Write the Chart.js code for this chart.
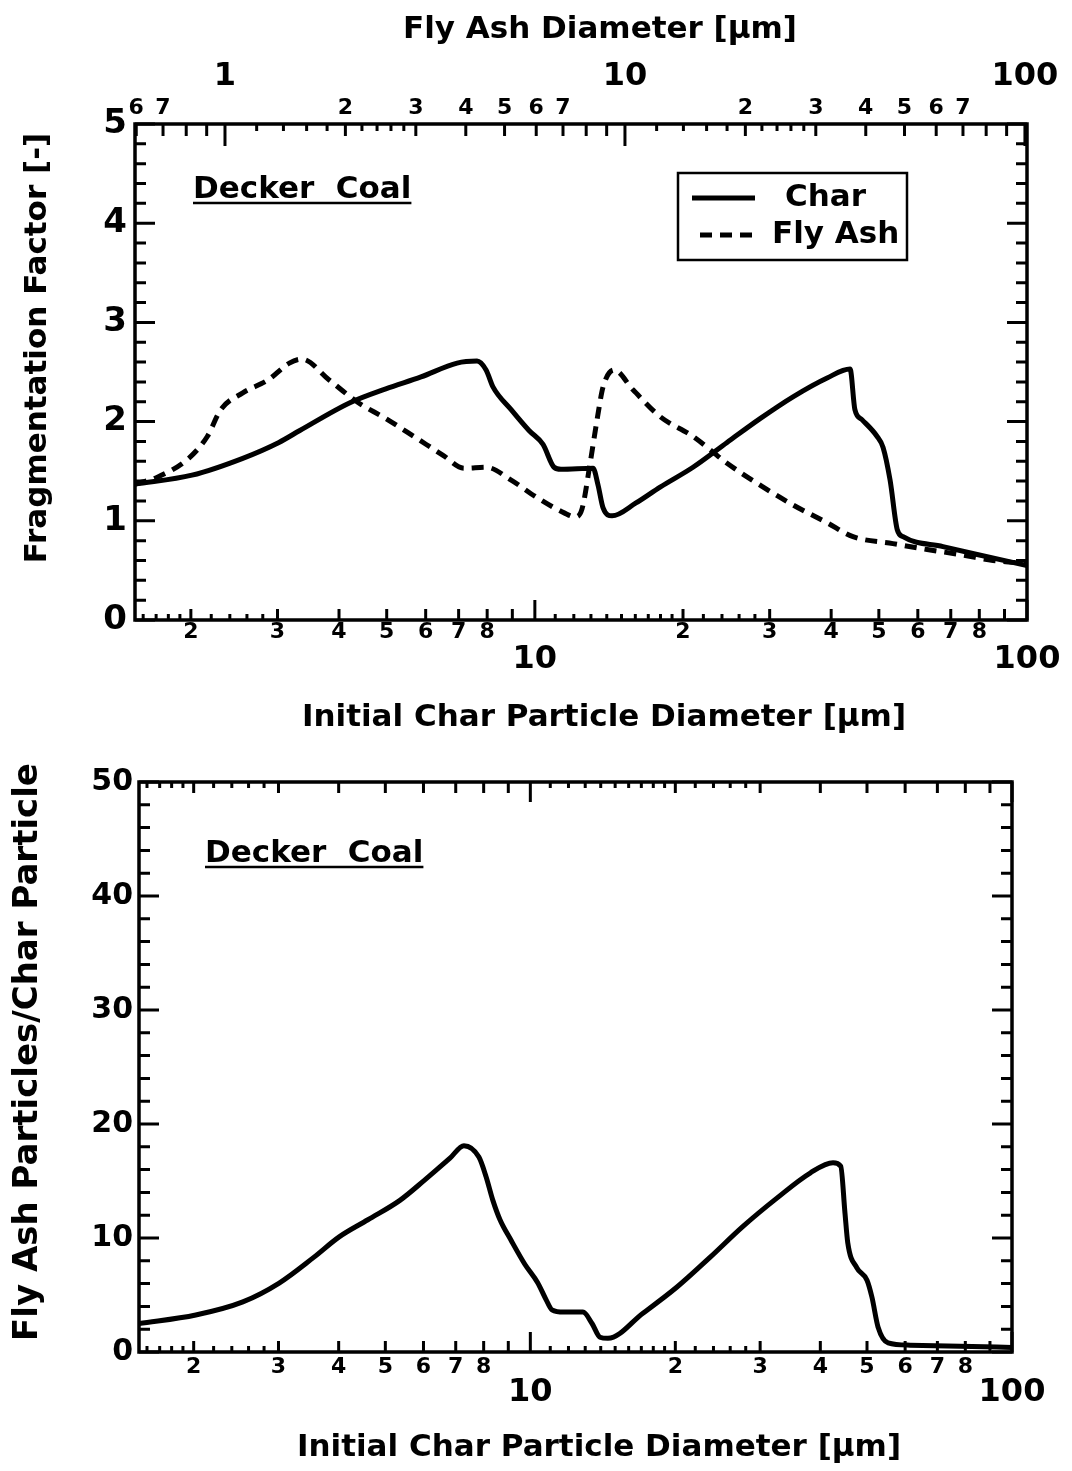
<!DOCTYPE html>
<html>
<head>
<meta charset="utf-8">
<title>Decker Coal fragmentation</title>
<script src="https://cdn.jsdelivr.net/npm/chart.js@4.4.1/dist/chart.umd.min.js"></script>
<style>
  html, body { margin: 0; padding: 0; background: #fff; }
  #wrap { position: relative; width: 1072px; height: 1471px; }
  #chartTop { position: absolute; left: 0; top: 0; }
  #chartBottom { position: absolute; left: 0; top: 745px; }
</style>
</head>
<body>
<div id="wrap">
  <canvas id="chartTop" width="1072" height="745"></canvas>
  <canvas id="chartBottom" width="1072" height="726"></canvas>
</div>
<script>
/* ===== Data ===== */
// top panel: fragmentation factor vs initial char diameter [um]
const charDiam = [1.54, 2.01, 2.55, 3.02, 3.33, 4.21, 4.98, 5.87, 6.95, 7.63, 7.96, 8.22, 8.95, 9.73, 10.39, 10.94, 11.3, 13.13, 13.44, 13.76, 14.35, 16.05, 17.97, 20.96, 24.58, 28.68, 33.46, 39.25, 43.7, 44.7, 46.2, 49.6, 51.0, 52.7, 54.5, 56.0, 67.5, 79.2, 100];
const charFrag = [1.37, 1.46, 1.63, 1.79, 1.91, 2.19, 2.33, 2.45, 2.59, 2.61, 2.52, 2.35, 2.12, 1.91, 1.77, 1.54, 1.52, 1.53, 1.36, 1.13, 1.05, 1.18, 1.34, 1.54, 1.79, 2.03, 2.25, 2.44, 2.53, 2.12, 2.02, 1.85, 1.74, 1.41, 0.91, 0.84, 0.74, 0.66, 0.55];

const ashDiam = [1.54, 1.71, 1.98, 2.16, 2.30, 2.55, 2.87, 3.17, 3.36, 3.82, 4.35, 4.98, 5.68, 6.51, 7.18, 7.96, 8.95, 10.06, 11.47, 12.07, 12.47, 12.95, 13.38, 13.76, 14.49, 15.83, 17.97, 20.96, 24.58, 28.68, 33.46, 39.25, 44.3, 53.4, 62.7, 73.1, 85.3, 100];
const ashFrag = [1.37, 1.44, 1.63, 1.85, 2.12, 2.29, 2.42, 2.59, 2.63, 2.42, 2.20, 2.03, 1.85, 1.66, 1.53, 1.54, 1.41, 1.24, 1.08, 1.04, 1.12, 1.58, 2.02, 2.35, 2.52, 2.32, 2.05, 1.85, 1.58, 1.36, 1.16, 0.98, 0.84, 0.77, 0.71, 0.66, 0.60, 0.57];

// bottom panel: fly ash particles per char particle
const numDiam = [1.54, 2.02, 2.53, 3.01, 3.55, 4.01, 4.60, 5.36, 6.04, 6.81, 7.28, 7.82, 8.09, 8.36, 8.65, 9.12, 9.74, 10.35, 10.78, 11.09, 11.74, 12.86, 13.43, 13.95, 14.49, 17.13, 20.16, 23.6, 27.6, 32.5, 38.1, 42.5, 44.1, 45.0, 45.6, 47.6, 50.0, 51.2, 52.7, 55.3, 61.4, 78.0, 100];
const numPerChar = [2.5, 3.25, 4.4, 6.05, 8.3, 10.1, 11.6, 13.3, 15.1, 17.0, 18.1, 17.1, 15.4, 13.3, 11.6, 9.8, 7.7, 6.1, 4.6, 3.7, 3.5, 3.5, 2.5, 1.3, 1.2, 3.4, 5.7, 8.3, 11.0, 13.5, 15.7, 16.6, 16.3, 12.2, 9.6, 7.4, 6.3, 4.8, 2.2, 0.8, 0.6, 0.5, 0.4];

/* ===== Tick lists ===== */
const charTicks = [1.6, 1.7, 1.8, 1.9, 2, 2.2, 2.4, 2.6, 2.8, 3, 4, 5, 6, 7, 8, 9, 10, 11, 12, 13, 14, 15, 16, 17, 18, 19, 20, 22, 24, 26, 28, 30, 40, 50, 60, 70, 80, 90, 100];
const charDigits = [2, 3, 4, 5, 6, 7, 8, 20, 30, 40, 50, 60, 70, 80];
const charDecades = [10, 100];
const charMid = [2, 3, 4, 5, 6, 7, 8, 9, 20, 30, 40, 50, 60, 70, 80, 90];

const ashTicks = [0.6, 0.7, 0.8, 0.9, 1, 1.2, 1.4, 1.6, 1.8, 2, 2.2, 2.4, 2.6, 2.8, 3, 4, 5, 6, 7, 8, 9, 10, 12, 14, 16, 18, 20, 22, 24, 26, 28, 30, 40, 50, 60, 70, 80, 90, 100];
const ashDigits = [0.6, 0.7, 2, 3, 4, 5, 6, 7, 20, 30, 40, 50, 60, 70];
const ashDecades = [1, 10, 100];
const ashMid = [0.6, 0.7, 0.8, 0.9, 2, 3, 4, 5, 6, 7, 8, 9, 20, 30, 40, 50, 60, 70, 80, 90];

/* ===== Helpers ===== */
const FONT = "'DejaVu Sans', 'Liberation Sans', sans-serif";
Chart.defaults.font.family = FONT;
Chart.defaults.font.weight = 'bold';
Chart.defaults.color = '#000';

const has = (arr, v) => arr.some(a => Math.abs(a - v) < 1e-6 * a);
const isMultiple = (v, m) => Math.abs(v / m - Math.round(v / m)) < 1e-6;
const leadDigit = v => Math.round(v / Math.pow(10, Math.floor(Math.log10(v) + 1e-9)));
const pts = (xs, ys) => xs.map((x, i) => ({ x, y: ys[i] }));

function logAxis(pos, min, max, ticks, digits, decades, lab) {
  return {
    type: 'logarithmic', position: pos, min, max, bounds: 'data',
    grid: { display: false, drawTicks: false }, border: { display: false },
    afterBuildTicks: s => { s.ticks = ticks.map(v => ({ value: v })); },
    afterFit: s => { s.height = lab.height; s.paddingLeft = 0; s.paddingRight = 0; },
    ticks: {
      display: lab.show, autoSkip: false, maxRotation: 0, minRotation: 0, padding: lab.pad,
      font: c => (c.tick && has(decades, c.tick.value))
        ? { size: 32, lineHeight: lab.bigLH, weight: 'bold' }
        : { size: 22, lineHeight: 1, weight: 'bold' },
      callback: v => {
        if (has(decades, v)) return pos === 'top' ? [String(v), ''] : ['', String(v)];
        return has(digits, v) ? String(leadDigit(v)) : '';
      }
    }
  };
}

function linAxis(max, step, major, lab) {
  return {
    type: 'linear', position: 'left', min: 0, max,
    grid: { display: false, drawTicks: false }, border: { display: false },
    afterFit: s => { s.width = lab.width; s.paddingTop = 0; s.paddingBottom = 0; },
    ticks: {
      stepSize: step, maxTicksLimit: 100, autoSkip: false, padding: lab.pad,
      font: { size: lab.size, weight: 'bold' },
      callback: v => isMultiple(v, major) ? String(Math.round(v)) : ''
    }
  };
}

/* frame + inward tick marks, drawn from the scales */
function frameTicks(marks) {
  return {
    id: 'frameTicks',
    afterDatasetsDraw(chart) {
      const ctx = chart.ctx, a = chart.chartArea;
      ctx.save();
      ctx.strokeStyle = '#000';
      ctx.lineCap = 'butt';
      ctx.lineWidth = 3;
      marks.forEach(m => {
        const s = chart.scales[m.scale];
        s.ticks.forEach(t => {
          const len = m.len(t.value);
          const p = s.getPixelForValue(t.value);
          ctx.beginPath();
          m.sides.forEach(side => {
            if (side === 'bottom') { ctx.moveTo(p, a.bottom); ctx.lineTo(p, a.bottom - len); }
            if (side === 'top') { ctx.moveTo(p, a.top); ctx.lineTo(p, a.top + len); }
            if (side === 'left') { ctx.moveTo(a.left, p); ctx.lineTo(a.left + len, p); }
            if (side === 'right') { ctx.moveTo(a.right, p); ctx.lineTo(a.right - len, p); }
          });
          ctx.stroke();
        });
      });
      ctx.lineWidth = 3.5;
      ctx.strokeRect(a.left, a.top, a.right - a.left, a.bottom - a.top);
      ctx.restore();
    }
  };
}

/* titles and the underlined panel tag */
function annotations(items) {
  return {
    id: 'annotations',
    afterDraw(chart) {
      const ctx = chart.ctx;
      ctx.save();
      ctx.fillStyle = '#000';
      ctx.strokeStyle = '#000';
      items.forEach(it => {
        ctx.save();
        ctx.font = `bold ${it.size}px ${FONT}`;
        ctx.translate(it.x, it.y);
        if (it.rot) ctx.rotate(it.rot);
        ctx.textAlign = it.align || 'center';
        ctx.textBaseline = it.baseline || 'middle';
        ctx.fillText(it.text, 0, 0);
        if (it.underline) {
          const w = ctx.measureText(it.text).width;
          ctx.lineWidth = 2.5;
          ctx.beginPath();
          ctx.moveTo(0, it.underline);
          ctx.lineTo(w, it.underline);
          ctx.stroke();
        }
        ctx.restore();
      });
      ctx.restore();
    }
  };
}

/* boxed legend inside the plot */
function boxLegend(box, rows) {
  return {
    id: 'boxLegend',
    afterDraw(chart) {
      const ctx = chart.ctx;
      ctx.save();
      ctx.strokeStyle = '#000';
      ctx.fillStyle = '#fff';
      ctx.lineWidth = 2.5;
      ctx.fillRect(box.x, box.y, box.w, box.h);
      ctx.strokeRect(box.x, box.y, box.w, box.h);
      chart.data.datasets.forEach((ds, i) => {
        const r = rows[i];
        ctx.lineWidth = ds.borderWidth;
        ctx.setLineDash(ds.borderDash || []);
        ctx.beginPath();
        ctx.moveTo(r.x0, r.y);
        ctx.lineTo(r.x1, r.y);
        ctx.stroke();
        ctx.setLineDash([]);
        ctx.fillStyle = '#000';
        ctx.font = `bold 31px ${FONT}`;
        ctx.textAlign = 'left';
        ctx.textBaseline = 'middle';
        ctx.fillText(ds.label, r.tx, r.y);
      });
      ctx.restore();
    }
  };
}

const lineStyle = {
  borderColor: '#000', borderWidth: 5, pointRadius: 0, fill: false,
  cubicInterpolationMode: 'monotone', borderJoinStyle: 'round'
};

/* ===== Top panel ===== */
new Chart(document.getElementById('chartTop'), {
  type: 'line',
  data: {
    datasets: [
      Object.assign({ label: 'Char', data: pts(charDiam, charFrag), borderCapStyle: 'round' }, lineStyle),
      Object.assign({ label: 'Fly Ash', data: pts(ashDiam, ashFrag), borderDash: [12, 8], borderCapStyle: 'butt' }, lineStyle)
    ]
  },
  options: {
    responsive: false, animation: false, events: [],
    layout: { padding: { left: 0, right: 45, top: 0, bottom: 0 } },
    plugins: { legend: { display: false }, tooltip: { enabled: false } },
    scales: {
      x: logAxis('bottom', 1.54, 100, charTicks, charDigits, charDecades, { height: 125, pad: 1, bigLH: 0.81, show: true }),
      xa: logAxis('top', 0.5957, 101.2, ashTicks, ashDigits, ashDecades, { height: 124, pad: 5, bigLH: 0.88, show: true }),
      y: linAxis(5, 0.2, 1, { width: 135, pad: 8, size: 34 })
    }
  },
  plugins: [
    frameTicks([
      { scale: 'x', sides: ['bottom'], len: v => has(charDecades, v) ? 20 : has(charMid, v) ? 11 : 6 },
      { scale: 'xa', sides: ['top'], len: v => has(ashDecades, v) ? 22 : has(ashMid, v) ? 12 : 7 },
      { scale: 'y', sides: ['left', 'right'], len: v => isMultiple(v, 1) ? 20 : 11 }
    ]),
    annotations([
      { text: 'Fly Ash Diameter [\u03bcm]', x: 600, y: 30, size: 31 },
      { text: 'Initial Char Particle Diameter [\u03bcm]', x: 604, y: 718, size: 31 },
      { text: 'Fragmentation Factor [-]', x: 38, y: 348, size: 31, rot: -Math.PI / 2 },
      { text: 'Decker  Coal', x: 193, y: 198, size: 31, align: 'left', baseline: 'alphabetic', underline: 5 }
    ]),
    boxLegend({ x: 678, y: 173, w: 229, h: 87 }, [
      { x0: 692, x1: 755, y: 198, tx: 785 },
      { x0: 700, x1: 752, y: 235, tx: 772 }
    ])
  ]
});

/* ===== Bottom panel ===== */
new Chart(document.getElementById('chartBottom'), {
  type: 'line',
  data: {
    datasets: [
      Object.assign({ label: 'Fly Ash Particles/Char Particle', data: pts(numDiam, numPerChar), borderCapStyle: 'round' }, lineStyle)
    ]
  },
  options: {
    responsive: false, animation: false, events: [],
    layout: { padding: { left: 0, right: 60, top: 37, bottom: 0 } },
    plugins: { legend: { display: false }, tooltip: { enabled: false } },
    scales: {
      x: logAxis('bottom', 1.54, 100, charTicks, charDigits, charDecades, { height: 119, pad: 4, bigLH: 0.77, show: true }),
      y: linAxis(50, 2, 10, { width: 139, pad: 6, size: 30 })
    }
  },
  plugins: [
    frameTicks([
      { scale: 'x', sides: ['bottom', 'top'], len: v => has(charDecades, v) ? 20 : has(charMid, v) ? 11 : 6 },
      { scale: 'y', sides: ['left', 'right'], len: v => isMultiple(v, 10) ? 20 : 11 }
    ]),
    annotations([
      { text: 'Initial Char Particle Diameter [\u03bcm]', x: 599, y: 703, size: 31 },
      { text: 'Fly Ash Particles/Char Particle', x: 28, y: 307, size: 34, rot: -Math.PI / 2 },
      { text: 'Decker  Coal', x: 205, y: 117, size: 31, align: 'left', baseline: 'alphabetic', underline: 5 }
    ])
  ]
});
</script>
</body>
</html>
